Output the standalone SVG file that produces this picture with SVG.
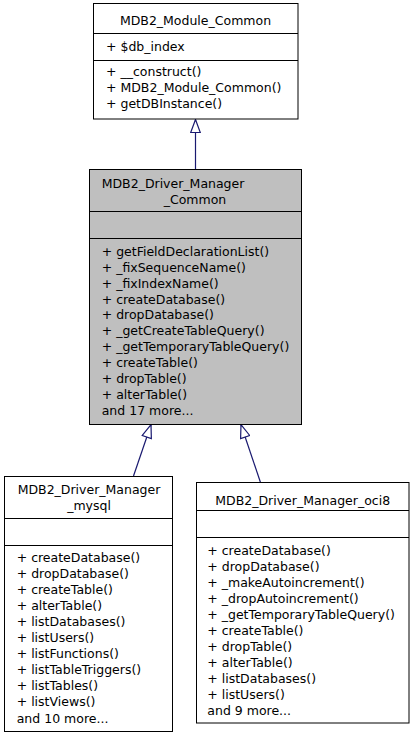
<svg xmlns="http://www.w3.org/2000/svg" width="413" height="739" viewBox="0 0 413 739">
<style>
  .box { fill: #ffffff; stroke: #000000; stroke-width: 1; }
  .gray { fill: #bfbfbf; }
  .div { stroke: #000000; stroke-width: 1; }
  text { font-family: "DejaVu Sans", sans-serif; font-size: 12.5px; fill: #000000; }
  .c { text-anchor: middle; }
  .edge { stroke: #191970; stroke-width: 1.2; fill: none; }
</style>
<defs>
  <marker id="inh" viewBox="0 0 15 11" refX="14" refY="5.5" markerWidth="15" markerHeight="11" markerUnits="userSpaceOnUse" orient="auto">
    <path d="M1,0.7 L14,5.5 L1,10.3 z" fill="#ffffff" stroke="#191970" stroke-width="1.2"/>
  </marker>
</defs>
<rect width="413" height="739" fill="#ffffff"/>

<g id="edges">
  <line class="edge" x1="195.5" y1="169.5" x2="195.5" y2="119.5" marker-end="url(#inh)"/>
  <line class="edge" x1="133.5" y1="476" x2="151" y2="424.7" marker-end="url(#inh)"/>
  <line class="edge" x1="260.5" y1="482.5" x2="241" y2="424.7" marker-end="url(#inh)"/>
</g>

<g id="MDB2_Module_Common">
  <rect class="box" x="93.5" y="3.5" width="204.5" height="115.5"/>
  <line class="div" x1="93.5" y1="33.5" x2="298" y2="33.5"/>
  <line class="div" x1="93.5" y1="60.5" x2="298" y2="60.5"/>
  <text class="c" x="195.5" y="25">MDB2_Module_Common</text>
  <text x="106" y="51">+ $db_index</text>
  <text x="106" y="76">+ __construct()</text>
  <text x="106" y="92">+ MDB2_Module_Common()</text>
  <text x="106" y="108">+ getDBInstance()</text>
</g>

<g id="MDB2_Driver_Manager_Common">
  <rect class="box gray" x="89.5" y="169.5" width="212" height="255"/>
  <line class="div" x1="89.5" y1="211.5" x2="301.5" y2="211.5"/>
  <line class="div" x1="89.5" y1="238.5" x2="301.5" y2="238.5"/>
  <text x="101.7" y="187.5">MDB2_Driver_Manager</text>
  <text class="c" x="195" y="203.5">_Common</text>
  <text x="101.7" y="256">+ getFieldDeclarationList()</text>
  <text x="101.7" y="271.85">+ _fixSequenceName()</text>
  <text x="101.7" y="287.7">+ _fixIndexName()</text>
  <text x="101.7" y="303.55">+ createDatabase()</text>
  <text x="101.7" y="319.4">+ dropDatabase()</text>
  <text x="101.7" y="335.25">+ _getCreateTableQuery()</text>
  <text x="101.7" y="351.1">+ _getTemporaryTableQuery()</text>
  <text x="101.7" y="366.95">+ createTable()</text>
  <text x="101.7" y="382.8">+ dropTable()</text>
  <text x="101.7" y="398.65">+ alterTable()</text>
  <text x="101.7" y="414.5">and 17 more...</text>
</g>

<g id="MDB2_Driver_Manager_mysql">
  <rect class="box" x="4.5" y="476.5" width="168" height="255"/>
  <line class="div" x1="4.5" y1="518.5" x2="172.5" y2="518.5"/>
  <line class="div" x1="4.5" y1="545.5" x2="172.5" y2="545.5"/>
  <text class="c" x="89" y="493.7">MDB2_Driver_Manager</text>
  <text class="c" x="89" y="509.7">_mysql</text>
  <text x="16.7" y="562">+ createDatabase()</text>
  <text x="16.7" y="578.05">+ dropDatabase()</text>
  <text x="16.7" y="594.1">+ createTable()</text>
  <text x="16.7" y="610.15">+ alterTable()</text>
  <text x="16.7" y="626.2">+ listDatabases()</text>
  <text x="16.7" y="642.25">+ listUsers()</text>
  <text x="16.7" y="658.3">+ listFunctions()</text>
  <text x="16.7" y="674.35">+ listTableTriggers()</text>
  <text x="16.7" y="690.4">+ listTables()</text>
  <text x="16.7" y="706.45">+ listViews()</text>
  <text x="16.7" y="722.5">and 10 more...</text>
</g>

<g id="MDB2_Driver_Manager_oci8">
  <rect class="box" x="196.5" y="482.5" width="212.5" height="240.5"/>
  <line class="div" x1="196.5" y1="510.5" x2="409" y2="510.5"/>
  <line class="div" x1="196.5" y1="537.5" x2="409" y2="537.5"/>
  <text class="c" x="302.7" y="504.5">MDB2_Driver_Manager_oci8</text>
  <text x="207.3" y="555">+ createDatabase()</text>
  <text x="207.3" y="571">+ dropDatabase()</text>
  <text x="207.3" y="587">+ _makeAutoincrement()</text>
  <text x="207.3" y="603">+ _dropAutoincrement()</text>
  <text x="207.3" y="619">+ _getTemporaryTableQuery()</text>
  <text x="207.3" y="635">+ createTable()</text>
  <text x="207.3" y="651">+ dropTable()</text>
  <text x="207.3" y="667">+ alterTable()</text>
  <text x="207.3" y="683">+ listDatabases()</text>
  <text x="207.3" y="699">+ listUsers()</text>
  <text x="207.3" y="715">and 9 more...</text>
</g>
</svg>
